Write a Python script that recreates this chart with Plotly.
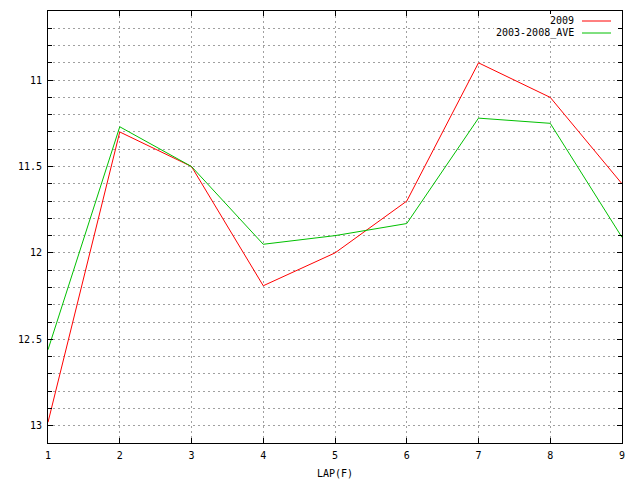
import plotly.graph_objects as go

laps = [1, 2, 3, 4, 5, 6, 7, 8, 9]
y2009 = [12.98, 11.30, 11.50, 12.19, 12.00, 11.70, 10.90, 11.10, 11.60]
yave = [12.56, 11.27, 11.50, 11.95, 11.90, 11.83, 11.22, 11.25, 11.91]
names = ["2009", "2003-2008_AVE"]
colors = ["#ff0000", "#00c000"]
ytickvals = [11, 11.5, 12, 12.5, 13]

W, H = 640, 480
PL, PT, PW, PH = 48, 11, 574, 432
font = dict(family="DejaVu Sans Mono", size=10, color="black")


def px(x):
    return (x - PL) / PW


def py(y):
    return 1 - (y - PT) / PH


fig = go.Figure()
for name, ys, c in zip(names, [y2009, yave], colors):
    fig.add_trace(go.Scatter(x=laps, y=ys, mode="lines", name=name,
                             line=dict(color=c, width=1), showlegend=False))

grid = dict(showgrid=True, gridcolor="#a0a0a0", griddash="2px,3px", gridwidth=1)
fig.update_layout(
    width=W, height=H,
    margin=dict(l=PL, r=W - PL - PW, t=PT, b=H - PT - PH, autoexpand=False),
    paper_bgcolor="white", plot_bgcolor="white",
    font=font,
    xaxis=dict(range=[1, 9], tickvals=laps, automargin=False,
               showline=True, linecolor="black", linewidth=1, mirror="allticks",
               ticks="inside", ticklen=5, tickcolor="black",
               ticklabelstandoff=3,
               zeroline=False, **grid),
    yaxis=dict(range=[13.1, 10.6], tickvals=ytickvals, automargin=False,
               ticktext=[f"{v:g}" for v in ytickvals],
               showline=True, linecolor="black", linewidth=1, mirror="allticks",
               ticks="inside", ticklen=5, tickcolor="black",
               ticklabelstandoff=3,
               zeroline=False, **grid,
               minor=dict(dtick=0.1, tick0=11, ticks="inside", ticklen=4,
                          tickcolor="black", **grid)),
)

# x-axis title
fig.add_annotation(x=0.5, xref="paper", y=py(473), yref="paper",
                   text="LAP(F)", showarrow=False, yanchor="middle", font=font)

# gnuplot-style key: white background, right-aligned text then line sample
fig.add_shape(type="rect", xref="paper", yref="paper", layer="above",
              x0=px(494), x1=px(616), y0=py(40), y1=py(14),
              line=dict(width=0), fillcolor="white")
leg_y = [21, 33]
for name, c, yy in zip(names, colors, leg_y):
    fig.add_annotation(x=px(576), y=py(yy), xref="paper", yref="paper",
                       text=name, showarrow=False, xanchor="right", yanchor="middle",
                       font=font)
    fig.add_shape(type="line", xref="paper", yref="paper",
                  x0=px(582), x1=px(611), y0=py(yy), y1=py(yy),
                  line=dict(color=c, width=1))

fig.write_html("out.html", config={"displayModeBar": False},
               post_script="document.body.style.margin='0';document.body.style.padding='0';")
